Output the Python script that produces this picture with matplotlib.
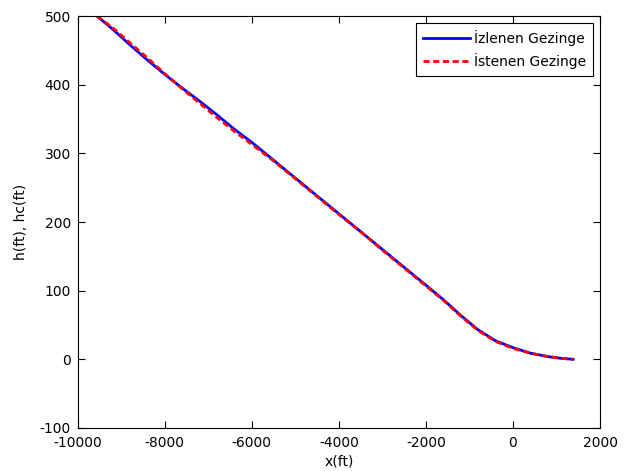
import numpy as np
import matplotlib
matplotlib.use("Agg")
import matplotlib.pyplot as plt

plt.rcParams['font.family'] = ['DejaVu Sans']
plt.rcParams['font.size'] = 10
plt.rcParams['axes.unicode_minus'] = False

# tracked trajectory (blue) and commanded trajectory (red), feet
x_track = [-9560, -9200, -8800, -8400, -8000, -7600, -7200, -6800, -6400,
           -6000, -5500, -5000, -4500, -4000, -3500, -3000, -2500, -2000,
           -1600, -1200, -800, -400, 0, 400, 800, 1100, 1380]
h_track = [500, 481, 458, 436, 415, 395, 376, 356, 335,
           316, 290, 264, 238, 212, 186, 160, 134, 108,
           87, 64, 43, 27, 17, 9, 4, 1.5, 0]

x_cmd = [-9560, -9200, -8800, -8400, -8000, -7600, -7200, -6800, -6400,
         -6000, -5500, -5000, -4500, -4000, -3500, -3000, -2500, -2000,
         -1600, -1200, -800, -400, 0, 400, 800, 1100, 1380]
h_cmd = [500, 483, 461, 439, 416, 394, 373, 352, 332,
         313, 289, 263, 237, 211, 186, 159, 133, 107,
         86, 63, 42, 26, 16, 9, 4, 1.5, 0]

xticks = np.arange(-10000, 2001, 2000)
yticks = np.arange(-100, 501, 100)

fig = plt.figure(figsize=(6.35, 4.71), dpi=100)
ax = fig.add_axes([0.1224, 0.0913, 0.8225, 0.8747])

ax.plot(x_track, h_track, color='#0000ff', lw=2, label='İzlenen Gezinge')
ax.plot(x_cmd, h_cmd, color='#ff0000', lw=2, ls=(0, (2.2, 1.3)), label='İstenen Gezinge')

ax.set_xlim(-10000, 2000)
ax.set_ylim(-100, 500)
ax.set_xticks(xticks)
ax.set_yticks(yticks)
ax.tick_params(direction='in', top=True, right=True, length=5, width=0.8)
ax.tick_params(axis='x', pad=6)
ax.tick_params(axis='y', pad=5)
for s in ax.spines.values():
    s.set_linewidth(0.8)

ax.set_xlabel('x(ft)', labelpad=3)
ax.set_ylabel('h(ft), hc(ft)', labelpad=8)

leg = ax.legend(loc='upper right', handlelength=3.4, handletextpad=0.3,
                fancybox=False, edgecolor='black', framealpha=1,
                borderaxespad=0.5, borderpad=0.5, labelspacing=0.5,
                fontsize=10)
leg.get_frame().set_linewidth(0.8)

fig.savefig('out.png', dpi=100)
